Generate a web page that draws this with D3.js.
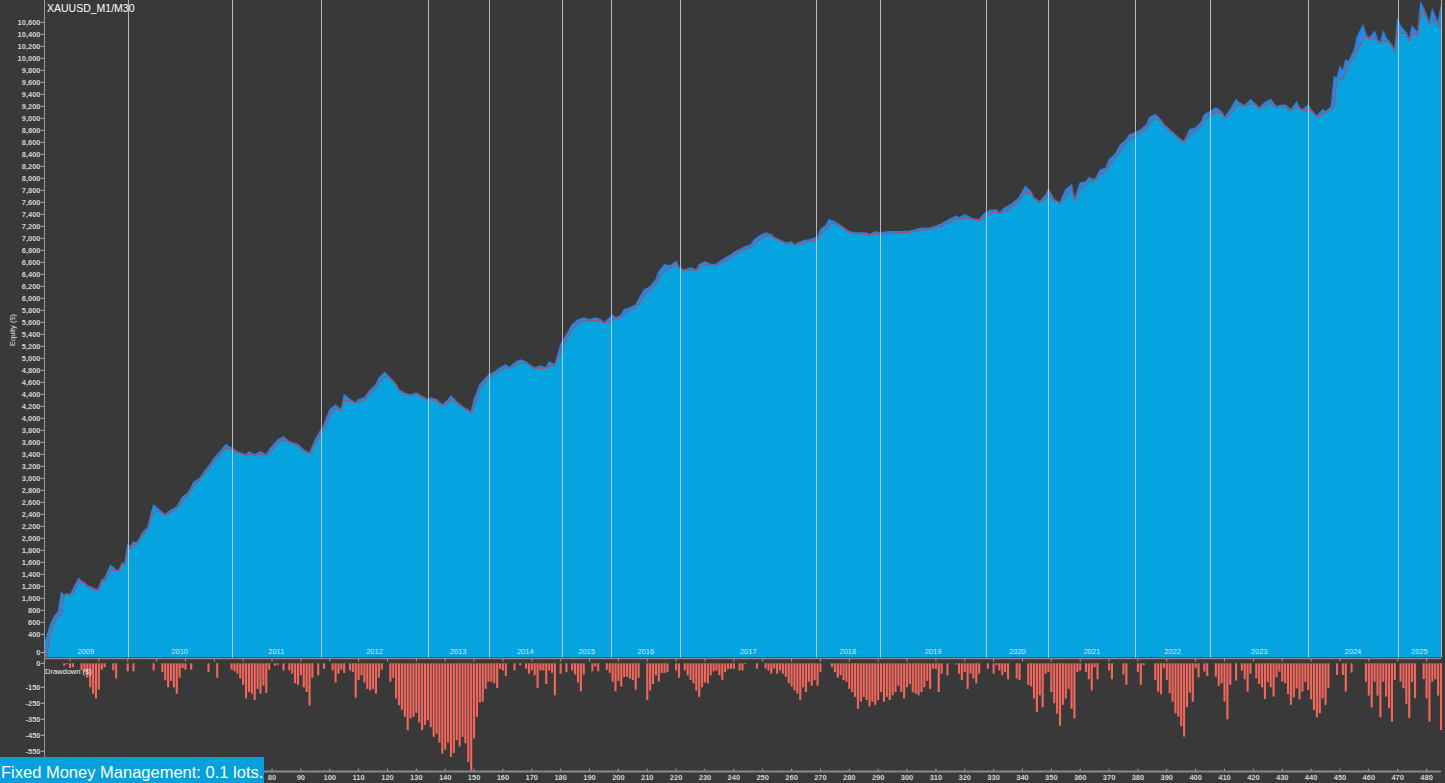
<!DOCTYPE html>
<html><head><meta charset="utf-8">
<script src="https://cdn.jsdelivr.net/npm/d3@7"></script>
<style>
html,body{margin:0;padding:0;background:#393939;overflow:hidden}
svg{display:block}
text{font-family:"Liberation Sans",Arial,sans-serif}
</style></head><body>
<svg id="c" width="1445" height="783"></svg>
<script>
// ---------------- data ----------------
const chartTitle = "XAUUSD_M1/M30";
const footerText = "Fixed Money Management: 0.1 lots.";
const years = [2009,2010,2011,2012,2013,2014,2015,2016,2017,2018,2019,2020,2021,2022,2023,2024,2025];
// trade number where each year starts (last entry = end of data)
const yearBounds = [1,30,66,97,134,155,180.5,197.5,221.5,268.5,290.5,327.5,349,379,405,439,470,485];
const eqTicks = [0].concat(d3.range(400, 10601, 200));
const ddTicks = [0,-150,-250,-350,-450,-550];
const tradeTicks = d3.range(10, 481, 10);
// labels 10..70 are covered by the footer box in the reference
const tradeLabels = d3.range(80, 481, 10);

// equity [trade, $]
const equityPts = [[1,190],[2,360],[3,530],[4,640],[5,720],[6,780],[7,1090],[8,1050],[9,1080],[10,1050],[11,1140],[13,1330],[14,1280],[15,1260],[16,1210],[18,1170],[19,1140],[20,1170],[21,1300],[22,1330],[24,1550],[26,1470],[27,1470],[28,1580],[29,1580],[30,1890],[31,1860],[32,1940],[33,1920],[34,1980],[35,2080],[37,2190],[38,2390],[39,2550],[41,2470],[43,2390],[45,2470],[47,2520],[49,2690],[51,2760],[53,2940],[55,3000],[57,3140],[59,3260],[60,3340],[62,3440],[64,3560],[66,3500],[68,3440],[71,3390],[72,3440],[74,3390],[76,3440],[78,3390],[79,3470],[82,3640],[84,3690],[86,3610],[89,3560],[91,3470],[93,3420],[95,3640],[97,3810],[98,3890],[100,4140],[102,4220],[104,4140],[105,4390],[107,4310],[109,4260],[110,4310],[112,4340],[114,4470],[116,4560],[117,4670],[119,4760],[121,4670],[123,4560],[124,4470],[126,4420],[128,4390],[130,4420],[131,4390],[134,4310],[135,4340],[137,4310],[139,4220],[141,4310],[142,4370],[144,4270],[146,4190],[148,4140],[149,4100],[150,4310],[152,4560],[154,4670],[155,4720],[157,4770],[159,4840],[161,4890],[162,4840],[164,4920],[166,4970],[168,4940],[169,4900],[171,4840],[173,4870],[175,4840],[176,4940],[178,4890],[180,5220],[181,5310],[183,5470],[184,5560],[186,5640],[188,5670],[190,5640],[192,5670],[194,5640],[195,5590],[198,5720],[199,5670],[201,5720],[202,5810],[204,5840],[206,5890],[208,6060],[209,6140],[211,6190],[213,6310],[214,6440],[216,6560],[218,6540],[220,6610],[221,6510],[223,6470],[225,6510],[227,6470],[228,6560],[230,6610],[232,6560],[234,6570],[235,6610],[237,6670],[239,6720],[240,6760],[242,6810],[244,6860],[246,6890],[247,6970],[249,7040],[251,7090],[253,7060],[254,7010],[256,6970],[258,6920],[260,6940],[261,6890],[263,6940],[265,6970],[266,6970],[269,7020],[270,7140],[272,7220],[273,7310],[275,7270],[277,7210],[279,7140],[280,7110],[282,7090],[284,7090],[286,7090],[287,7060],[289,7110],[290,7090],[294,7110],[298,7110],[301,7120],[305,7170],[308,7170],[312,7240],[313,7270],[315,7320],[317,7370],[318,7340],[320,7390],[322,7340],[324,7310],[325,7310],[327,7420],[329,7470],[331,7470],[332,7420],[334,7510],[336,7560],[338,7640],[339,7690],[341,7860],[343,7770],[344,7670],[346,7610],[348,7720],[349,7810],[351,7640],[353,7590],[355,7810],[357,7890],[358,7640],[360,7920],[362,7940],[363,8010],[365,7970],[367,8140],[369,8170],[370,8310],[372,8390],[374,8560],[376,8640],[377,8720],[379,8760],[381,8810],[383,8890],[384,9010],[386,9060],[388,8970],[389,8890],[391,8810],[393,8720],[395,8640],[396,8610],[398,8810],[400,8840],[402,8940],[403,9060],[405,9110],[407,9170],[409,9110],[410,9010],[412,9140],[414,9310],[415,9260],[417,9210],[419,9310],[421,9220],[422,9170],[424,9260],[426,9310],[428,9190],[429,9210],[431,9220],[433,9140],[435,9270],[436,9170],[437,9140],[439,9220],[440,9140],[442,9030],[443,9090],[444,9140],[445,9110],[447,9190],[448,9690],[449,9670],[450,9860],[451,9780],[452,9970],[453,9940],[455,10140],[456,10360],[458,10550],[459,10390],[460,10330],[462,10440],[463,10300],[464,10260],[465,10440],[466,10330],[467,10280],[469,10140],[470,10640],[471,10530],[473,10420],[474,10300],[475,10530],[477,10420],[478,10920],[479,10830],[481,10580],[482,10810],[483,10690],[484,10580],[485,10860]];

// balance [trade, $]
const balancePts = [[1,0],[2,30],[3,360],[4,530],[5,640],[6,700],[7,720],[8,1050],[9,1050],[10,1050],[11,1060],[13,1270],[14,1270],[15,1260],[16,1200],[18,1150],[19,1130],[20,1140],[21,1270],[22,1290],[24,1470],[26,1460],[27,1460],[28,1550],[29,1560],[30,1830],[31,1830],[32,1880],[33,1900],[34,1960],[35,2040],[37,2160],[38,2340],[39,2440],[41,2450],[43,2380],[45,2430],[47,2490],[49,2630],[51,2720],[53,2880],[55,2980],[57,3090],[59,3220],[60,3300],[62,3400],[64,3500],[66,3480],[68,3430],[71,3380],[72,3400],[74,3380],[76,3400],[78,3380],[79,3420],[82,3580],[84,3640],[86,3600],[89,3540],[91,3460],[93,3410],[95,3560],[97,3760],[98,3820],[100,4050],[102,4160],[104,4130],[105,4300],[107,4290],[109,4250],[110,4270],[112,4300],[114,4420],[116,4500],[117,4590],[119,4690],[121,4660],[123,4550],[124,4460],[126,4400],[128,4380],[130,4390],[131,4380],[134,4300],[135,4310],[137,4300],[139,4210],[141,4260],[142,4320],[144,4260],[146,4180],[148,4130],[149,4090],[150,4200],[152,4480],[154,4610],[155,4670],[157,4730],[159,4790],[161,4850],[162,4830],[164,4870],[166,4920],[168,4920],[169,4890],[171,4830],[173,4840],[175,4830],[176,4870],[178,4880],[180,5100],[181,5230],[183,5380],[184,5490],[186,5580],[188,5620],[190,5620],[192,5630],[194,5620],[195,5580],[198,5650],[199,5660],[201,5680],[202,5740],[204,5800],[206,5840],[208,5960],[209,6060],[211,6130],[213,6230],[214,6340],[216,6470],[218,6510],[220,6550],[221,6500],[223,6460],[225,6480],[227,6460],[228,6500],[230,6560],[232,6550],[234,6550],[235,6570],[237,6620],[239,6680],[240,6720],[242,6770],[244,6820],[246,6850],[247,6900],[249,6980],[251,7040],[253,7040],[254,7000],[256,6960],[258,6910],[260,6910],[261,6880],[263,6900],[265,6940],[266,6950],[269,6980],[270,7060],[272,7150],[273,7230],[275,7250],[277,7200],[279,7130],[280,7100],[282,7080],[284,7070],[286,7070],[287,7050],[289,7070],[290,7070],[294,7080],[298,7090],[301,7100],[305,7130],[308,7150],[312,7200],[313,7230],[315,7270],[317,7320],[318,7320],[320,7340],[322,7320],[324,7300],[325,7290],[327,7360],[329,7420],[331,7440],[332,7410],[334,7450],[336,7510],[338,7580],[339,7640],[341,7760],[343,7750],[344,7660],[346,7600],[348,7660],[349,7740],[351,7630],[353,7580],[355,7700],[357,7820],[358,7630],[360,7800],[362,7880],[363,7950],[365,7950],[367,8060],[369,8120],[370,8220],[372,8330],[374,8470],[376,8580],[377,8650],[379,8710],[381,8760],[383,8830],[384,8920],[386,9000],[388,8950],[389,8880],[391,8800],[393,8710],[395,8630],[396,8600],[398,8720],[400,8800],[402,8880],[403,8970],[405,9050],[407,9110],[409,9090],[410,9000],[412,9060],[414,9210],[415,9230],[417,9200],[419,9250],[421,9210],[422,9160],[424,9200],[426,9260],[428,9180],[429,9180],[431,9190],[433,9130],[435,9200],[436,9160],[437,9130],[439,9140],[440,9130],[442,9020],[443,9040],[444,9080],[445,9090],[447,9140],[448,9200],[449,9640],[450,9640],[451,9660],[452,9780],[453,9900],[455,10000],[456,10120],[458,10330],[459,10370],[460,10320],[462,10330],[463,10290],[464,10250],[465,10280],[466,10290],[467,10270],[469,10130],[470,10470],[471,10420],[473,10400],[474,10290],[475,10400],[477,10400],[478,10720],[479,10800],[481,10570],[482,10600],[483,10660],[484,10570],[485,10500]];

// drawdown [trade, $]
const drawdownPts = [[8,-15],[9,-5],[10,-30],[11,-25],[14,-45],[15,-55],[16,-90],[17,-150],[18,-190],[19,-220],[20,-165],[21,-40],[22,-25],[25,-45],[26,-95],[30,-50],[32,-50],[39,-45],[42,-55],[43,-105],[44,-150],[45,-110],[46,-150],[47,-190],[48,-90],[49,-30],[50,-40],[52,-40],[58,-55],[61,-90],[66,-40],[67,-50],[68,-65],[69,-95],[70,-135],[71,-220],[72,-180],[73,-190],[74,-230],[75,-160],[76,-190],[77,-140],[78,-185],[79,-40],[81,-15],[82,-10],[84,-45],[86,-45],[87,-65],[88,-125],[89,-135],[90,-75],[91,-150],[92,-180],[93,-265],[94,-90],[96,-75],[98,-35],[101,-45],[102,-120],[103,-65],[104,-40],[105,-60],[107,-45],[108,-55],[109,-215],[110,-105],[111,-75],[112,-120],[113,-160],[114,-170],[115,-160],[116,-190],[117,-90],[118,-40],[121,-115],[122,-90],[123,-220],[124,-262],[125,-290],[126,-335],[127,-418],[128,-345],[129,-335],[130,-310],[131,-370],[132,-418],[133,-385],[134,-356],[135,-400],[136,-460],[137,-440],[138,-495],[139,-565],[140,-540],[141,-495],[142,-585],[143,-560],[144,-480],[145,-520],[146,-460],[147,-500],[148,-616],[149,-680],[150,-470],[151,-335],[152,-245],[153,-240],[154,-160],[155,-115],[156,-115],[157,-125],[158,-155],[159,-35],[160,-45],[161,-80],[164,-44],[166,-12],[168,-33],[169,-65],[170,-44],[171,-75],[172,-155],[173,-45],[174,-45],[175,-130],[176,-45],[177,-60],[178,-200],[180,-65],[182,-55],[184,-45],[185,-70],[186,-120],[187,-175],[188,-70],[191,-50],[192,-20],[193,-50],[196,-40],[197,-60],[198,-115],[199,-175],[200,-110],[201,-145],[202,-85],[203,-85],[204,-95],[205,-105],[206,-165],[207,-90],[210,-230],[211,-170],[212,-130],[213,-75],[214,-115],[215,-60],[216,-60],[217,-55],[220,-45],[221,-90],[223,-45],[224,-75],[225,-105],[226,-125],[227,-170],[228,-210],[229,-150],[230,-120],[231,-125],[232,-75],[233,-50],[234,-45],[235,-75],[236,-105],[237,-55],[238,-35],[239,-35],[240,-35],[242,-44],[243,-45],[244,-5],[248,-33],[251,-33],[252,-45],[253,-65],[254,-33],[255,-65],[256,-45],[257,-65],[258,-85],[259,-125],[260,-145],[261,-170],[262,-190],[263,-230],[264,-150],[265,-180],[266,-115],[267,-140],[268,-105],[269,-140],[270,-55],[274,-25],[275,-55],[276,-90],[277,-75],[278,-105],[279,-115],[280,-160],[281,-180],[282,-210],[283,-285],[284,-240],[285,-210],[286,-230],[287,-270],[288,-240],[289,-260],[290,-230],[291,-180],[292,-240],[293,-210],[294,-230],[295,-200],[296,-180],[297,-140],[298,-180],[299,-220],[300,-150],[301,-130],[302,-180],[303,-190],[304,-200],[305,-180],[306,-150],[307,-110],[308,-160],[309,-35],[310,-35],[311,-180],[312,-65],[314,-75],[317,-8],[318,-65],[319,-105],[320,-55],[321,-160],[322,-65],[323,-95],[324,-125],[325,-65],[328,-35],[330,-65],[331,-12],[332,-45],[333,-75],[334,-55],[335,-100],[338,-95],[339,-105],[342,-135],[343,-145],[344,-220],[345,-305],[346,-200],[347,-275],[348,-65],[349,-55],[350,-180],[351,-250],[352,-315],[353,-390],[354,-260],[355,-220],[356,-160],[357,-285],[358,-345],[359,-55],[360,-45],[362,-55],[363,-100],[364,-170],[365,-25],[366,-100],[370,-45],[371,-100],[375,-70],[376,-135],[380,-55],[381,-135],[382,-12],[386,-104],[387,-177],[388,-194],[389,-31],[390,-104],[391,-188],[392,-240],[393,-313],[394,-333],[395,-392],[396,-458],[397,-275],[398,-183],[399,-240],[400,-31],[401,-88],[403,-52],[404,-79],[407,-83],[408,-142],[409,-125],[410,-240],[411,-350],[412,-135],[414,-108],[416,-46],[417,-100],[418,-177],[419,-65],[421,-94],[422,-129],[423,-150],[424,-223],[425,-117],[426,-150],[427,-208],[428,-88],[429,-52],[430,-115],[431,-125],[432,-192],[433,-260],[434,-213],[435,-156],[436,-225],[437,-177],[438,-117],[439,-167],[440,-225],[441,-292],[442,-338],[443,-313],[444,-219],[445,-260],[446,-156],[449,-73],[451,-73],[452,-177],[454,-58],[459,-115],[460,-202],[461,-275],[462,-115],[463,-202],[464,-338],[465,-115],[466,-208],[467,-281],[468,-365],[469,-104],[471,-115],[472,-156],[473,-254],[474,-342],[475,-117],[476,-219],[479,-98],[480,-219],[481,-365],[482,-115],[483,-100],[484,-202],[485,-417]];

// ---------------- layout ----------------
const L = 44, R = 1441;
const eqBottom = 657.5;
const sepY = 658.6;
const axisY = 771.5;

const svg = d3.select("#c");
svg.append("rect").attr("width",1445).attr("height",783).attr("fill","#393939");

const x = d3.scaleLinear().domain([1,485]).range([L,R]);
const yEq = d3.scaleLinear().domain([0,10600]).range([658.3,22.3]);
const yDD = d3.scaleLinear().domain([0,-550]).range([663.3,751.3]);

svg.append("clipPath").attr("id","eqclip").append("rect")
  .attr("x",L).attr("y",0).attr("width",R-L).attr("height",eqBottom);

const gEq = svg.append("g").attr("clip-path","url(#eqclip)");
const areaEq = d3.area().x(d=>x(d[0])).y0(eqBottom).y1(d=>yEq(d[1]));
const lineEq = d3.line().x(d=>x(d[0])).y(d=>yEq(d[1]));
gEq.append("path").datum(equityPts).attr("d",areaEq).attr("fill","#1f8de4");
gEq.append("path").datum(balancePts).attr("d",areaEq).attr("fill","#05a3e0");
gEq.append("path").datum(equityPts).attr("d",lineEq)
  .attr("fill","none").attr("stroke","#2a7fd6").attr("stroke-width",1.4);
gEq.append("path").datum(balancePts).attr("d",lineEq)
  .attr("fill","none").attr("stroke","#b34a6a").attr("stroke-width",1.1);

// year separators
svg.append("g").selectAll("line").data(yearBounds.slice(1)).join("line")
  .attr("x1",d=>Math.round(x(d))+0.5).attr("x2",d=>Math.round(x(d))+0.5)
  .attr("y1",0).attr("y2",eqBottom)
  .attr("stroke","rgba(215,215,215,0.8)").attr("stroke-width",1);

// year labels
svg.append("g").selectAll("text").data(years).join("text")
  .attr("x",(d,i)=>(x(yearBounds[i])+x(yearBounds[i+1]))/2)
  .attr("y",654).attr("text-anchor","middle")
  .attr("font-size",7.5).attr("fill","#dde8ee").text(d=>d);

// equity y axis
svg.append("line").attr("x1",L+0.5).attr("x2",L+0.5).attr("y1",0).attr("y2",eqBottom)
  .attr("stroke","#9a9a9a");
const gY = svg.append("g");
gY.selectAll("line").data(eqTicks).join("line")
  .attr("x1",41).attr("x2",L)
  .attr("y1",d=>d===0?652.5:yEq(d)).attr("y2",d=>d===0?652.5:yEq(d))
  .attr("stroke","#bbb");
gY.selectAll("text").data(eqTicks).join("text")
  .attr("x",40.5).attr("y",d=>(d===0?652.5:yEq(d))+2.7)
  .attr("text-anchor","end").attr("font-size",7.5).attr("font-weight","bold")
  .attr("fill","#d2d2d2").text(d=>d3.format(",")(d));

svg.append("text").attr("transform","translate(15,330) rotate(-90)")
  .attr("text-anchor","middle").attr("font-size",7.5).attr("fill","#d8d8d8").text("Equity ($)");

svg.append("text").attr("x",47).attr("y",12).attr("font-size",10.5).attr("fill","#ffffff").text(chartTitle);

// separator between panels
svg.append("line").attr("x1",L).attr("x2",R).attr("y1",sepY).attr("y2",sepY)
  .attr("stroke","#8a8a8a").attr("stroke-width",1.3);
svg.append("g").selectAll("line").data(tradeTicks).join("line")
  .attr("x1",d=>x(d)).attr("x2",d=>x(d)).attr("y1",sepY).attr("y2",sepY+3)
  .attr("stroke","#9a9a9a");

// drawdown bars
svg.append("g").selectAll("rect").data(drawdownPts).join("rect")
  .attr("x",d=>x(d[0])-1.05).attr("width",2.1)
  .attr("y",yDD(0)).attr("height",d=>yDD(d[1])-yDD(0))
  .attr("fill","#f2675c");

// drawdown y axis
svg.append("line").attr("x1",L+0.5).attr("x2",L+0.5).attr("y1",sepY).attr("y2",axisY)
  .attr("stroke","#9a9a9a");
const gD = svg.append("g");
gD.selectAll("line").data(ddTicks).join("line")
  .attr("x1",41).attr("x2",L).attr("y1",d=>yDD(d)).attr("y2",d=>yDD(d)).attr("stroke","#bbb");
gD.selectAll("text").data(ddTicks).join("text")
  .attr("x",40.5).attr("y",d=>yDD(d)+2.7).attr("text-anchor","end")
  .attr("font-size",7.5).attr("font-weight","bold").attr("fill","#d2d2d2").text(d=>d);
svg.append("text").attr("x",45).attr("y",674).attr("font-size",7.5).attr("fill","#f0f0f0").text("Drawdown ($)");

// bottom x axis
svg.append("line").attr("x1",L).attr("x2",R).attr("y1",axisY).attr("y2",axisY)
  .attr("stroke","#8a8a8a").attr("stroke-width",2);
const gX = svg.append("g");
gX.selectAll("line").data(tradeTicks).join("line")
  .attr("x1",d=>x(d)).attr("x2",d=>x(d)).attr("y1",axisY-3).attr("y2",axisY)
  .attr("stroke","#9a9a9a");
gX.selectAll("text").data(tradeLabels).join("text")
  .attr("x",d=>x(d)).attr("y",780).attr("text-anchor","middle")
  .attr("font-size",7.5).attr("font-weight","bold").attr("fill","#d2d2d2").text(d=>d);

// footer box
svg.append("rect").attr("x",0).attr("y",757).attr("width",264).attr("height",26).attr("fill","#079fdc");
svg.append("text").attr("x",1).attr("y",778).attr("font-size",16.5).attr("fill","#ffffff").text(footerText);
</script>
</body></html>
